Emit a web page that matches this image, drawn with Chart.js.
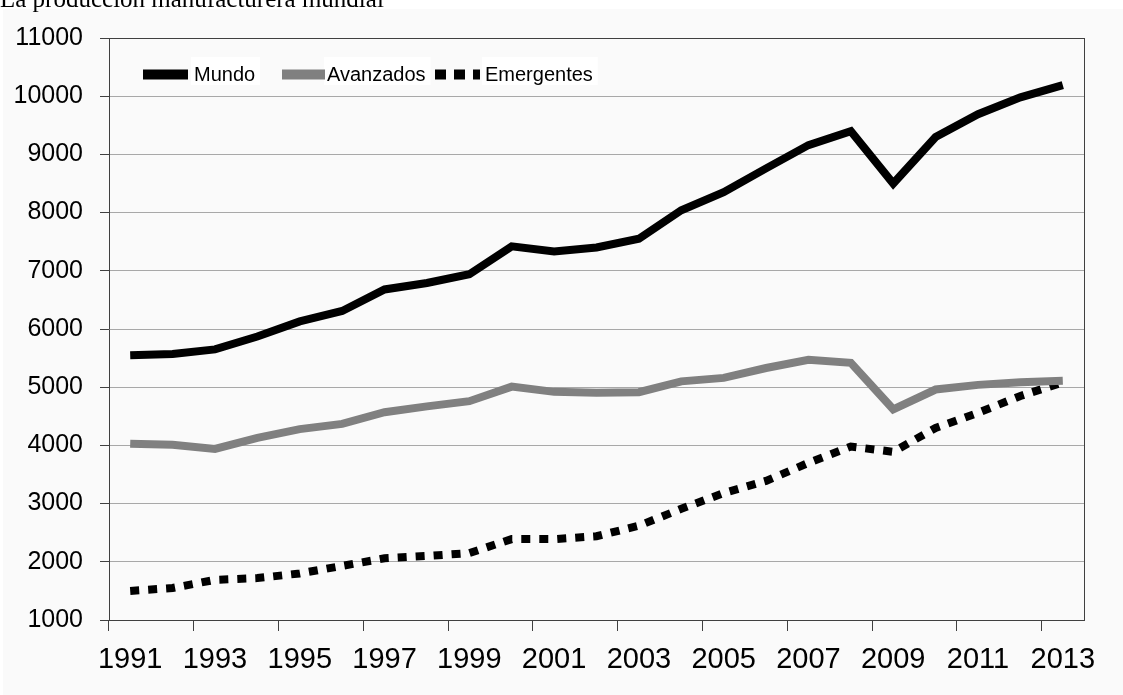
<!DOCTYPE html>
<html>
<head>
<meta charset="utf-8">
<script src="https://cdn.jsdelivr.net/npm/chart.js@4.4.1/dist/chart.umd.min.js"></script>
<style>
html, body { margin:0; padding:0; background:#fff; }
#wrap { position:relative; width:1123px; height:695px; overflow:hidden; }
#fondo { position:absolute; left:3px; top:9px; right:0; bottom:0; background:#fafafa; }
#c { position:absolute; left:0; top:0; }
#titulo { position:absolute; left:0; top:-14px; font-size:25px; line-height:25px;
  font-family:"Liberation Serif","Times New Roman",serif; color:#000; white-space:nowrap; }
</style>
</head>
<body>
<div id="wrap">
  <div id="fondo"></div>
  <canvas id="c" width="1123" height="695"></canvas>
  <div id="titulo">La producción manufacturera mundial</div>
</div>
<script>
// ====== datos ======
const years = ['1991','1992','1993','1994','1995','1996','1997','1998','1999','2000','2001','2002',
  '2003','2004','2005','2006','2007','2008','2009','2010','2011','2012','2013'];
const mundo = [5550,5570,5650,5870,6130,6310,6680,6790,6940,7420,7330,7400,
  7550,8040,8350,8760,9160,9400,8500,9300,9690,9980,10190];
const avanzados = [4030,4010,3940,4130,4280,4370,4570,4670,4760,5010,4920,4905,
  4915,5100,5160,5330,5470,5420,4620,4960,5040,5085,5110];
const emergentes = [1500,1550,1690,1720,1800,1930,2060,2100,2150,2390,2390,2440,
  2620,2910,3180,3390,3700,3980,3890,4300,4560,4850,5080];
const yMin = 1000, yMax = 11000, yStep = 1000;

const AXIS = '#404040';
const GRID = '#a8a8a8';

// marco del área de trazado (lado derecho)
const marco = {
  id: 'marco',
  beforeDatasetsDraw(chart){
    const {ctx, chartArea:a} = chart;
    ctx.save();
    ctx.strokeStyle = AXIS;
    ctx.lineWidth = 1;
    ctx.beginPath();
    ctx.moveTo(Math.round(a.right) + 0.5, a.top);
    ctx.lineTo(Math.round(a.right) + 0.5, a.bottom);
    ctx.stroke();
    ctx.restore();
  }
};

// leyenda dentro del gráfico, como en el original
const leyenda = {
  id: 'leyenda',
  afterDraw(chart){
    const ctx = chart.ctx;
    const muestraX = [143, 282, 435], muestraFin = [188, 325, 480], textoX = [194, 327, 485];
    ctx.save();
    ctx.font = '20px "Liberation Sans", Arial, sans-serif';
    chart.data.datasets.forEach((ds, i) => {
      const w = ctx.measureText(ds.label).width;
      ctx.fillStyle = '#fff';
      ctx.fillRect(textoX[i] - 3, 57, w + 8, 28);
      ctx.strokeStyle = ds.borderColor;
      ctx.lineWidth = 10;
      ctx.lineCap = 'butt';
      ctx.setLineDash(ds.borderDash ? [11, 8] : []);
      ctx.beginPath();
      ctx.moveTo(muestraX[i], 74.5);
      ctx.lineTo(muestraFin[i], 74.5);
      ctx.stroke();
      ctx.setLineDash([]);
      ctx.fillStyle = '#000';
      ctx.textBaseline = 'alphabetic';
      ctx.fillText(ds.label, textoX[i], 81);
    });
    ctx.restore();
  }
};

new Chart(document.getElementById('c'), {
  type: 'line',
  data: {
    labels: years,
    datasets: [
      { label:'Mundo', data:mundo, borderColor:'#000', borderWidth:8 },
      { label:'Avanzados', data:avanzados, borderColor:'#808080', borderWidth:8 },
      { label:'Emergentes', data:emergentes, borderColor:'#000', borderWidth:8, borderDash:[9,9] }
    ]
  },
  options: {
    responsive: false,
    animation: false,
    layout: { padding: { left:0, top:38, right:39, bottom:0 } },
    elements: {
      point: { radius:0 },
      line: { tension:0, fill:false, borderCapStyle:'butt', borderJoinStyle:'miter' }
    },
    plugins: { legend:{ display:false }, tooltip:{ enabled:false } },
    scales: {
      x: {
        offset: true,
        grid: {
          offset: true,
          drawOnChartArea: false,
          tickLength: 11,
          color: c => c.index % 2 === 0 ? AXIS : 'rgba(0,0,0,0)',
          tickColor: c => c.index % 2 === 0 ? AXIS : 'rgba(0,0,0,0)'
        },
        border: { color: AXIS },
        ticks: {
          autoSkip: false, maxRotation: 0, padding: 12, color: '#000',
          font: { family: '"Liberation Sans",Arial,sans-serif', size: 29 },
          callback(v, i){ return i % 2 === 0 ? this.getLabelForValue(v) : ''; }
        },
        afterFit(s){ s.height = 75; }
      },
      y: {
        min: yMin, max: yMax,
        grid: {
          color: c => (c.tick && c.tick.value === yMax) ? AXIS : GRID,
          tickColor: AXIS,
          tickLength: 9
        },
        border: { color: AXIS },
        ticks: {
          stepSize: yStep, padding: 17, color: '#000',
          font: { family: '"Liberation Sans",Arial,sans-serif', size: 25 },
          callback: v => String(v)
        },
        afterFit(s){ s.width = 109; }
      }
    }
  },
  plugins: [marco, leyenda]
});
</script>
</body>
</html>
